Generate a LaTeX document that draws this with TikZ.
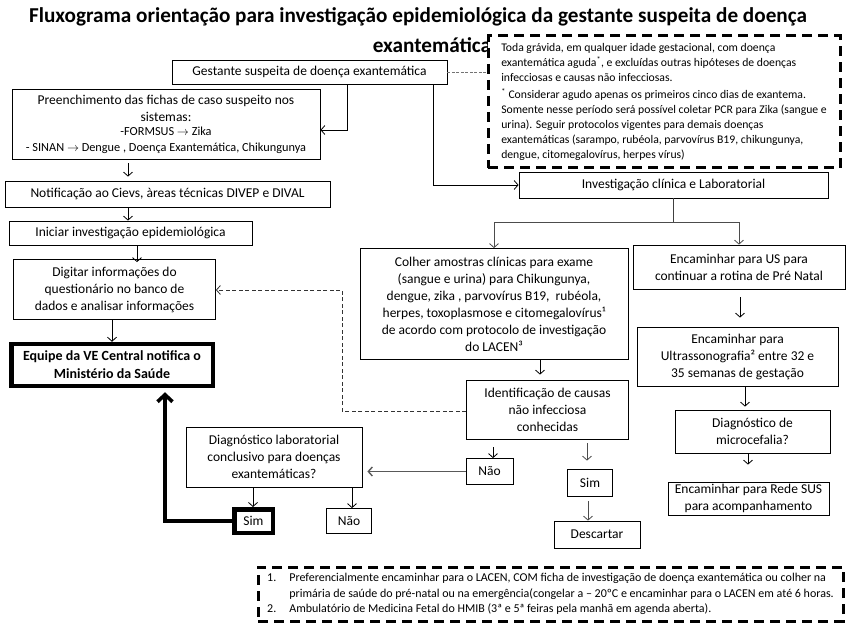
\documentclass[tikz,border=0pt]{standalone}
\usepackage{fontspec}
\setmainfont{Carlito}
\usetikzlibrary{arrows.meta,calc}
\begin{document}
\begin{tikzpicture}[x=1pt,y=-1pt,
  box/.style={draw, line width=0.8pt, inner sep=1pt, align=center, font=\fontsize{13.5}{17}\selectfont},
  thickbox/.style={box, line width=4.5pt, font=\fontsize{14}{18}\selectfont\bfseries},
  notebox/.style={draw, line width=3pt, dash pattern=on 10pt off 6pt, fill=white, inner sep=0pt, align=left},
  arr/.style={-{Straight Barb[length=4pt,width=9pt]}, line width=0.8pt},
  grayarr/.style={arr, draw=black!70},
  bigarr/.style={-{Straight Barb[length=7pt,width=15pt]}, line width=3.6pt},
  dasharr/.style={arr, dash pattern=on 4pt off 2.5pt, draw=black!80},
  thinline/.style={line width=0.8pt},
  titlefont/.style={font=\fontsize{21.2}{25}\selectfont\bfseries, inner sep=0pt}
]
\useasboundingbox (0,0) rectangle (853,639);

% title
\node[titlefont] (title1) at (418,17) {Fluxograma orientação para investigação epidemiológica da gestante suspeita de doença};
\node[titlefont] (title2) at (432,45) {exantemática};

% top note
\node[notebox, minimum width=352, minimum height=132, font=\fontsize{11.7}{15}\selectfont] (note) at (664,102) {Toda grávida, em qualquer idade gestacional, com doença\\
exantemática aguda\textsuperscript{*}, e excluídas outras hipóteses de doenças\\
infecciosas e causas não infecciosas.\\[2pt]
\textsuperscript{*} Considerar agudo apenas os primeiros cinco dias de exantema.\\
Somente nesse período será possível coletar PCR para Zika (sangue e\\
urina). Seguir protocolos vigentes para demais doenças\\
exantemáticas (sarampo, rubéola, parvovírus B19, chikungunya,\\
dengue, citomegalovírus, herpes vírus)};

% left column
\node[box, minimum width=275, minimum height=24] (gest) at (309.5,72) {Gestante suspeita de doença exantemática};
\node[box, minimum width=308, minimum height=70] (pre) at (166,124) {Preenchimento das fichas de caso suspeito nos\\ sistemas:\\[-3pt]
{\fontsize{12.3}{14}\selectfont -FORMSUS $\rightarrow$ Zika}\\[-1pt]
{\fontsize{12.3}{14}\selectfont - SINAN $\rightarrow$ Dengue , Doença Exantemática, Chikungunya}};
\node[box, minimum width=325, minimum height=26] (noti) at (167.5,194) {Notificação ao Cievs, àreas técnicas DIVEP e DIVAL};
\node[box, minimum width=243, minimum height=24] (ini) at (130.5,233) {Iniciar investigação epidemiológica};
\node[box, minimum width=202, minimum height=60] (dig) at (114.5,289.5) {Digitar informações do\\ questionário no banco de\\ dados e analisar informações};
\node[thickbox, minimum width=201.5, minimum height=42] (equ) at (112,365) {Equipe da VE Central notifica o\\ Ministério da Saúde};

% center
\node[box, minimum width=309, minimum height=26] (inv) at (673.5,185) {Investigação clínica e Laboratorial};
\node[box, minimum width=268, minimum height=111] (col) at (494,304) {Colher amostras clínicas para exame\\ (sangue e urina) para Chikungunya,\\ dengue, zika , parvovírus B19,\ \ rubéola,\\ herpes, toxoplasmose e citomegalovírus¹\\ de acordo com protocolo de investigação\\ do LACEN³};
\node[box, minimum width=162, minimum height=59] (ident) at (547.5,409.5) {Identificação de causas\\ não infecciosa\\ conhecidas};
\node[box, minimum width=47, minimum height=26] (nao1) at (489.5,471.5) {Não};
\node[box, minimum width=45, minimum height=27] (sim1) at (590,482.5) {Sim};
\node[box, minimum width=86, minimum height=27] (desc) at (597,534.5) {Descartar};
\node[box, minimum width=176, minimum height=60] (diag) at (274,457) {Diagnóstico laboratorial\\ conclusivo para doenças\\ exantemáticas?};
\node[thickbox, font=\fontsize{13.5}{17}\selectfont, minimum width=38.5, minimum height=23.5] (sim2) at (253.5,521) {Sim};
\node[box, minimum width=45, minimum height=25] (nao2) at (349,521) {Não};

% right column
\node[box, minimum width=212, minimum height=44] (us) at (739,267) {Encaminhar para US para\\ continuar a rotina de Pré Natal};
\node[box, minimum width=201, minimum height=59] (ult) at (737.5,356.5) {Encaminhar para\\ Ultrassonografia² entre 32 e\\ 35 semanas de gestação};
\node[box, minimum width=155, minimum height=43] (micro) at (752.5,431.5) {Diagnóstico de\\ microcefalia?};
\node[box, minimum width=161, minimum height=33] (rede) at (748.5,498.5) {Encaminhar para Rede SUS\\ para acompanhamento};

% footnote
\node[notebox, minimum width=585, minimum height=54, font=\fontsize{12}{15.5}\selectfont] (foot) at (550.5,594) {%
\begin{tabular}{@{}l@{\hspace{13pt}}l@{}}
1. & Preferencialmente encaminhar para o LACEN, COM ficha de investigação de doença exantemática ou colher na\\
   & primária de saúde do pré-natal ou na emergência(congelar a – 20ºC e encaminhar para o LACEN em até 6 horas.\\
2. & Ambulatório de Medicina Fetal do HMIB (3ª e 5ª feiras pela manhã em agenda aberta).
\end{tabular}};

% connectors
\draw[dash pattern=on 3pt off 1.5pt, draw=black!55, line width=0.7pt] (gest.east) -- (note.west |- gest.east);
\draw[arr] (gest.south -| 347,0) |- (pre.east |- 0,130);
\draw[arr] (gest.south -| 433,0) |- (inv.west);
\draw[arr, shorten <=4pt, shorten >=4pt] (pre.south -| 128,0) -- (noti.north -| 128,0);
\draw[arr] (noti.south -| 128,0) -- (ini.north -| 128,0);
\draw[arr] (ini.south -| 137,0) -- ($(dig.north -| 137,0)+(0,3)$);
\draw[arr] (dig.south -| 112,0) -- (equ.north -| 112,0);

\draw[thinline, draw=black!75] (inv.south) -- (inv.south |- 0,222) coordinate (split);
\draw[grayarr] (split) -| (col.north);
\draw[grayarr] (split) -| (us.north);

\draw[arr, shorten >=5pt] (col.south -| 540,0) -- (ident.north -| 540,0);
\draw[arr, shorten <=8pt] (ident.south -| 493,0) -- (nao1.north -| 493,0);
\draw[grayarr, shorten <=4pt, shorten >=8pt] (ident.south -| 587,0) -- (sim1.north -| 587,0);
\draw[grayarr, shorten <=5pt] (sim1.south -| 588,0) -- (desc.north -| 588,0);
\draw[arr, draw=black!65, line width=1.4pt, shorten >=5pt] (nao1.west) -- (diag.east |- nao1.west);
\draw[arr] (diag.south -| 253,0) -- (sim2.north -| 253,0);
\draw[arr] (diag.south -| 352,0) -- (nao2.north -| 352,0);
\draw[bigarr, shorten >=4pt] (sim2.west) -| (equ.south -| 165,0);
\draw[dasharr] (ident.west |- 0,411) -| (342,290) -- (dig.east |- 0,290);

\draw[arr, shorten <=8pt, shorten >=9pt] (us.south -| 740,0) -- (ult.north -| 740,0);
\draw[arr, shorten >=3pt] (ult.south -| 745,0) -- (micro.north -| 745,0);
\draw[arr, shorten >=17pt] (micro.south -| 748,0) -- (rede.north -| 748,0);
\end{tikzpicture}
\end{document}
